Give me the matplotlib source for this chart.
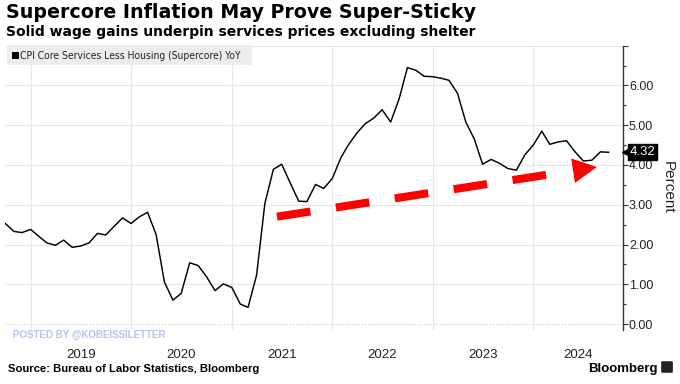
import numpy as np
import pandas as pd
import matplotlib
matplotlib.use("Agg")
import matplotlib.pyplot as plt
import matplotlib.dates as mdates
import matplotlib.transforms as mtransforms
from matplotlib.patches import Rectangle, FancyBboxPatch

# monthly YoY %, Oct 2018 .. Oct 2024
dates = pd.date_range("2018-10-01", periods=73, freq="MS")
supercore = [
    2.53, 2.33, 2.30,
    2.38, 2.20, 2.04, 1.98, 2.11, 1.93, 1.96, 2.04, 2.28, 2.24, 2.46, 2.67,
    2.53, 2.70, 2.81, 2.25, 1.06, 0.60, 0.77, 1.54, 1.47, 1.19, 0.84, 1.01,
    0.92, 0.50, 0.42, 1.23, 3.03, 3.89, 4.02, 3.55, 3.09, 3.08, 3.51, 3.41,
    3.66, 4.18, 4.51, 4.81, 5.04, 5.18, 5.39, 5.08, 5.67, 6.45, 6.38, 6.23,
    6.22, 6.18, 6.13, 5.80, 5.08, 4.65, 4.02, 4.14, 4.04, 3.91, 3.87, 4.25,
    4.50, 4.85, 4.52, 4.58, 4.61, 4.33, 4.10, 4.12, 4.33, 4.32,
]
years = [2019, 2020, 2021, 2022, 2023, 2024]
yticks = [0, 1, 2, 3, 4, 5, 6, 7]
last_value = supercore[-1]

# red trend arrow (annotation)
arrow_start = (pd.Timestamp("2021-06-14"), 2.70)
arrow_end = (pd.Timestamp("2024-08-19"), 3.95)

title = "Supercore Inflation May Prove Super-Sticky"
subtitle = "Solid wage gains underpin services prices excluding shelter"
series_name = "CPI Core Services Less Housing (Supercore) YoY"
source = "Source: Bureau of Labor Statistics, Bloomberg"

W, H = 680, 384
fig = plt.figure(figsize=(6.8, 3.84), dpi=100)
ax = fig.add_axes([5 / W, 1 - 330 / H, (622.7 - 5) / W, (330 - 45.7) / H])

x = mdates.date2num(dates)
ax.plot(x, supercore, color="black", lw=1.05, zorder=3)

x0 = mdates.date2num(pd.Timestamp("2018-09-30"))
x1 = mdates.date2num(pd.Timestamp("2024-11-21"))
ax.set_xlim(x0, x1)
ax.set_ylim(-0.15, 7)

# grid
for yv in yticks:
    if yv == 0:
        ax.axhline(yv, color="#d0d0d0", lw=0.9, ls=(0, (1, 1.5)), zorder=1)
    else:
        ax.axhline(yv, color="#e6e6e6", lw=0.8, zorder=1)
year_starts = [mdates.date2num(pd.Timestamp(f"{y}-01-01")) for y in years]
for xv in year_starts:
    ax.axvline(xv, color="#e6e6e6", lw=0.8, zorder=1)

# year labels centred in the visible part of each year
ax.set_xticks([])
for y, xs in zip(years, year_starts):
    xe = min(mdates.date2num(pd.Timestamp(f"{y + 1}-01-01")), x1)
    px = ax.transData.transform(((xs + xe) / 2, 0))[0]
    fig.text(px / W, 1 - 358.3 / H, str(y), ha="center", va="baseline",
             fontsize=9.5, family="Liberation Sans", color="#222222")

# right axis
for s in ["left", "top", "bottom"]:
    ax.spines[s].set_visible(False)
ax.spines["right"].set_color("#333333")
ax.spines["right"].set_linewidth(1.0)
ax.yaxis.tick_right()
ax.set_yticks(yticks)
ax.set_yticklabels([f"{v:.2f}" if v < 7 else "" for v in yticks])
ax.set_yticks(np.arange(0.5, 7, 1.0), minor=True)
ax.tick_params(axis="y", which="major", length=3.5, width=0.8, pad=1, colors="#333333",
               labelsize=9, labelcolor="#222222")
ax.tick_params(axis="y", which="minor", length=2, width=0.8, colors="#333333")
for lab in ax.get_yticklabels():
    lab.set_family("Liberation Sans")
ax.set_facecolor("none")

fig.text(668 / W, 1 - 187 / H, "Percent", rotation=-90, ha="center", va="center",
         fontsize=11, family="Liberation Sans", color="#222222")

# last value tag
tag_tr = mtransforms.blended_transform_factory(ax.transAxes, ax.transData)
ax.plot([1], [last_value], marker="<", ms=6, color="black", clip_on=False, zorder=6,
        transform=mtransforms.offset_copy(tag_tr, fig=fig, x=3.2, units="dots"))
ax.annotate(f"{last_value:.2f}", xy=(1, last_value), xycoords=tag_tr,
            xytext=(5, 0), textcoords="offset points", ha="left", va="center",
            color="white", fontsize=9.5, family="Liberation Sans", zorder=7,
            bbox=dict(boxstyle="square,pad=0.15", fc="black", ec="black"))

# red dashed trend arrow
sx, sy = mdates.date2num(arrow_start[0]), arrow_start[1]
ex, ey = mdates.date2num(arrow_end[0]), arrow_end[1]
f = 0.884
ax.plot([sx, sx + f * (ex - sx)], [sy, sy + f * (ey - sy)], color="#ff0000", lw=5.8,
        dashes=(4.2, 3.2), solid_capstyle="butt", dash_capstyle="butt", zorder=4)
ax.annotate("", xy=(ex, ey), xytext=(sx, sy),
            arrowprops=dict(arrowstyle="-|>,head_length=17.3,head_width=8.9", mutation_scale=1,
                            color="#ff0000", lw=0, shrinkA=0, shrinkB=0), zorder=4)

# legend box
fig.patches.append(Rectangle((6.7 / W, 1 - 65 / H), (251.7 - 6.7) / W, 20 / H,
                             transform=fig.transFigure, fc="#ececec", ec="none", zorder=5))
fig.patches.append(Rectangle((12 / W, 1 - 59 / H), 7 / W, 7 / H,
                             transform=fig.transFigure, fc="black", ec="none", zorder=6))
fig.text(20.5 / W, 1 - 59.3 / H, series_name, fontsize=7.4, family="DejaVu Sans",
         fontstretch="condensed", color="#222222", va="baseline", zorder=7)

# titles
fig.text(6 / W, 1 - 18.3 / H, title, fontsize=13.7, fontweight="bold", family="DejaVu Sans",
         va="baseline", color="black")
fig.text(6 / W, 1 - 36 / H, subtitle, fontsize=10, fontweight="bold", family="DejaVu Sans",
         va="baseline", color="black")

fig.text(13 / W, 1 - 337.7 / H, "POSTED BY @KOBEISSILETTER", fontsize=7, fontweight="bold",
         family="Liberation Sans", color="#b4c2f0", va="baseline")
fig.text(8 / W, 1 - 371.7 / H, source, fontsize=8.1, fontweight="bold",
         family="Liberation Sans", va="baseline", color="black")
fig.text(658 / W, 1 - 371.7 / H, "Bloomberg", fontsize=9.5, fontweight="bold",
         family="Liberation Sans", ha="right", va="baseline", color="black")
fig.patches.append(FancyBboxPatch((662.5 / W, 1 - 372 / H), 9 / W, 10 / H,
                                  boxstyle="round,pad=0.002", transform=fig.transFigure,
                                  fc="#222222", ec="none"))

fig.savefig("out.png", dpi=100, facecolor="white")
